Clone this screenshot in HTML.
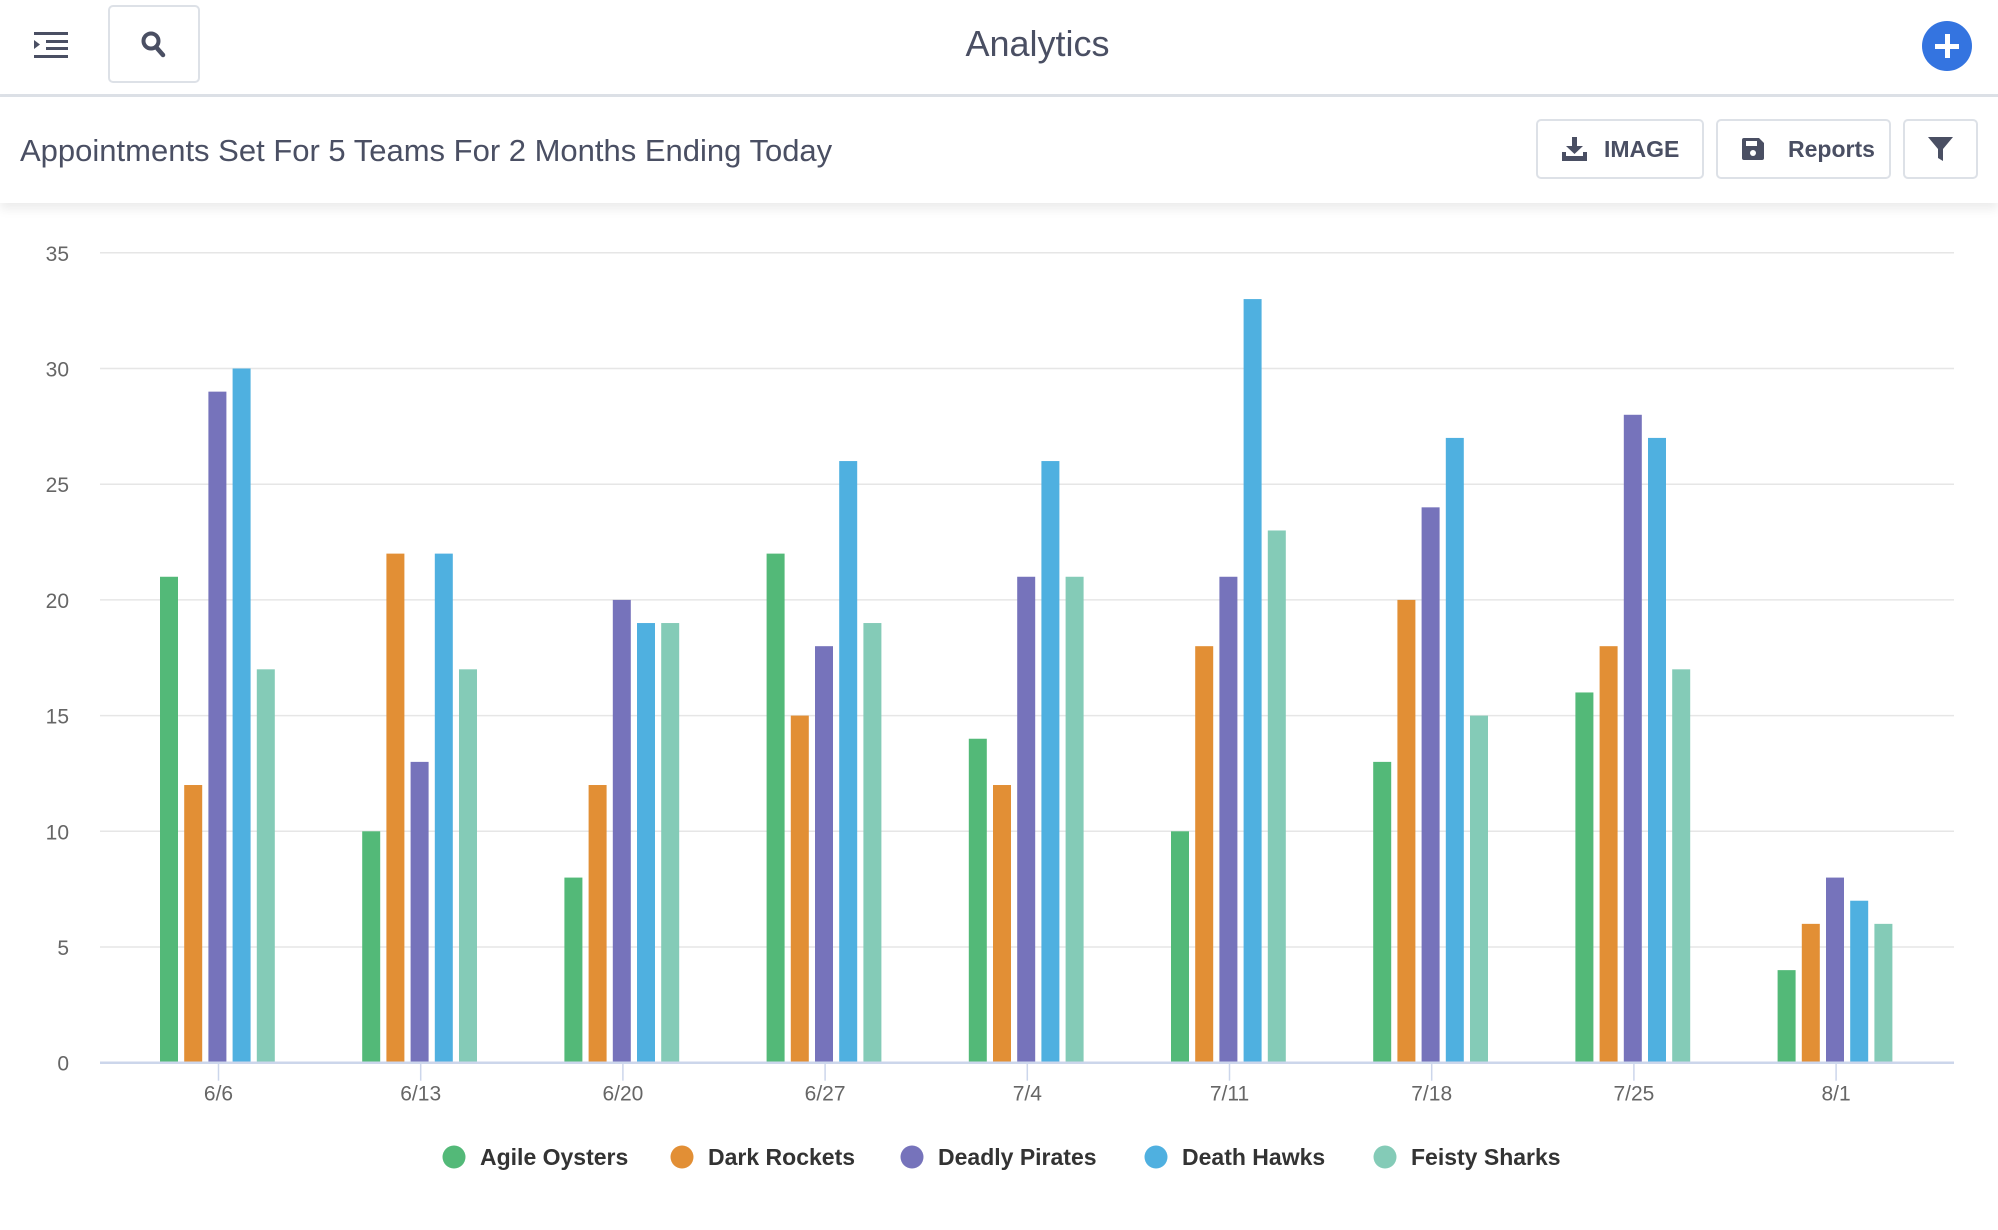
<!DOCTYPE html>
<html><head><meta charset="utf-8">
<style>
html,body{margin:0;padding:0;background:#fff;width:1998px;height:1230px;overflow:hidden;font-family:"Liberation Sans",sans-serif;color:#4a4f63}
.hdr{position:absolute;left:0;top:0;width:1998px;height:94px;border-bottom:3px solid #dde1e7;background:#fff}
.sub{position:absolute;left:0;top:97px;width:1998px;height:106px;background:#fff;box-shadow:0 6px 10px rgba(0,0,0,0.08);z-index:2}
.btn{position:absolute;top:22px;height:60px;border:2px solid #dde1e7;border-radius:5px;box-sizing:border-box;background:#fff;font-weight:bold;font-size:23px;color:#4a4f63;display:flex;align-items:center}
</style></head><body>
<div class="hdr">
  <svg style="position:absolute;left:34px;top:32px" width="34" height="26" viewBox="0 0 34 26">
    <rect x="0" y="0" width="34" height="3" fill="#4a4f63"/>
    <rect x="12" y="8" width="22" height="3" fill="#4a4f63"/>
    <rect x="12" y="15" width="22" height="3" fill="#4a4f63"/>
    <rect x="0" y="23" width="34" height="3" fill="#4a4f63"/>
    <polygon points="0,8 6,12.5 0,17" fill="#4a4f63"/>
  </svg>
  <div style="position:absolute;left:108px;top:5px;width:92px;height:78px;border:2px solid #dde1e7;border-radius:5px;box-sizing:border-box"></div>
  <svg style="position:absolute;left:141px;top:31px" width="26" height="28" viewBox="0 0 26 28">
    <circle cx="10" cy="10" r="7.5" fill="none" stroke="#4a4f63" stroke-width="4"/>
    <line x1="15" y1="16" x2="22" y2="24" stroke="#4a4f63" stroke-width="4.5" stroke-linecap="round"/>
  </svg>
  <div style="position:absolute;left:0;width:2075px;top:23px;text-align:center;font-size:36px;color:#4a4f63">Analytics</div>
  <div style="position:absolute;left:1922px;top:21px;width:50px;height:50px;border-radius:50%;background:#3474e0"></div>
  <div style="position:absolute;left:1935px;top:44px;width:24px;height:5px;background:#fff"></div>
  <div style="position:absolute;left:1944.5px;top:34px;width:5px;height:24px;background:#fff"></div>
</div>
<div class="sub">
  <div style="position:absolute;left:20px;top:36px;font-size:31px;color:#4a4f63">Appointments Set For 5 Teams For 2 Months Ending Today</div>
  <div class="btn" style="left:1536px;width:168px">
    <svg style="margin-left:24px" width="25" height="25" viewBox="0 0 25 25"><rect x="10" y="0" width="5" height="10" fill="#4a4f63"/><polygon points="4,9 21,9 12.5,17" fill="#4a4f63"/><path d="M0 15 L0 24 L25 24 L25 15 L21 15 L21 19 L4 19 L4 15Z" fill="#4a4f63"/></svg>
    <span style="margin-left:17px">IMAGE</span></div>
  <div class="btn" style="left:1716px;width:175px">
    <svg style="margin-left:24px" width="22" height="22" viewBox="0 0 22 22"><path d="M2 0 H17 L22 5 V20 Q22 22 20 22 H2 Q0 22 0 20 V2 Q0 0 2 0Z" fill="#4a4f63"/><rect x="4" y="3" width="11" height="5" fill="#fff"/><circle cx="11" cy="15" r="3" fill="#fff"/></svg>
    <span style="margin-left:24px">Reports</span></div>
  <div class="btn" style="left:1903px;width:75px;justify-content:center">
    <svg width="25" height="25" viewBox="0 0 25 25"><polygon points="0,0 25,0 15,12 15,24 10,21 10,12" fill="#4a4f63"/></svg></div>
</div>
<svg id="ch" style="position:absolute;left:0;top:0" width="1998" height="1230"></svg>
<script>
var d=[[21,12,29,30,17],[10,22,13,22,17],[8,12,20,19,19],[22,15,18,26,19],[14,12,21,26,21],[10,18,21,33,23],[13,20,24,27,15],[16,18,28,27,17],[4,6,8,7,6]];
var lab=["6/6","6/13","6/20","6/27","7/4","7/11","7/18","7/25","8/1"];
var col=["#53b978","#e28f35","#7673bb","#4fb0e0","#84cbb7"];
var names=["Agile Oysters","Dark Rockets","Deadly Pirates","Death Hawks","Feisty Sharks"];
var base=1062.7,u=23.14,s="";
for(var v=0;v<=35;v+=5){var y=base-v*u;
 if(v>0)s+='<line x1="100" x2="1954" y1="'+y+'" y2="'+y+'" stroke="#e6e6e6" stroke-width="1.5"/>';
 s+='<text x="69" y="'+(y+8)+'" text-anchor="end" font-size="21" fill="#666">'+v+'</text>';}
var off=[-58.5,-34.3,-10.1,14.1,38.3];
for(var i=0;i<9;i++){var c=218.5+202.2*i;
 for(var k=0;k<5;k++){var h=d[i][k]*u;s+='<rect x="'+(c+off[k])+'" y="'+(base-h)+'" width="18" height="'+h+'" fill="'+col[k]+'"/>';}
 s+='<line x1="'+c+'" x2="'+c+'" y1="'+base+'" y2="'+(base+18)+'" stroke="#ccd6eb" stroke-width="1.5"/>';
 s+='<text x="'+c+'" y="'+(base+38)+'" text-anchor="middle" font-size="21" fill="#666">'+lab[i]+'</text>';}
s+='<line x1="100" x2="1954" y1="'+base+'" y2="'+base+'" stroke="#ccd6eb" stroke-width="2.5"/>';
var lx=[454,682,912,1156,1385];
for(var k=0;k<5;k++){s+='<circle cx="'+lx[k]+'" cy="1157" r="11.5" fill="'+col[k]+'"/>';
 s+='<text x="'+(lx[k]+26)+'" y="1165" font-size="23" font-weight="bold" fill="#333">'+names[k]+'</text>';}
document.getElementById('ch').innerHTML=s;
</script>
</body></html>
